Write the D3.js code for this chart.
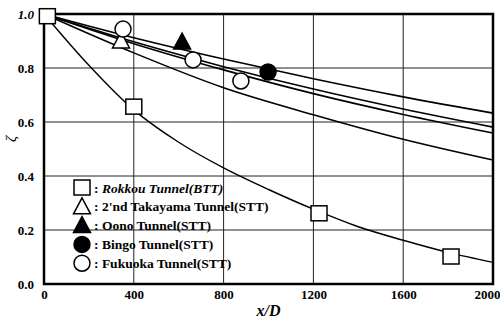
<!DOCTYPE html>
<html>
<head>
<meta charset="utf-8">
<script src="https://cdn.jsdelivr.net/npm/d3@7"></script>
<style>
  body { margin: 0; background: #fff; }
  svg { display: block; }
  text { font-family: "Liberation Serif", "Times New Roman", Times, "DejaVu Serif", serif; }
  .tick text { font-weight: bold; font-size: 13px; fill: #000; }
</style>
</head>
<body>
<div id="chart"></div>
<script>
// tick values
var xTicks = [0, 400, 800, 1200, 1600, 2000];
var yTicks = [0.0, 0.2, 0.4, 0.6, 0.8, 1.0];

// fitted lines
var lineX = [0, 400, 800, 1200, 1600, 2000];
var lineTop = [1.0, 0.912, 0.833, 0.760, 0.693, 0.633];
var lineMid1 = [1.0, 0.897, 0.805, 0.722, 0.648, 0.581];
var lineMid2 = [1.0, 0.890, 0.793, 0.705, 0.628, 0.559];
var lineLow = [1.0, 0.856, 0.727, 0.627, 0.536, 0.459];

var rokkouX = [0, 200, 400, 600, 800, 1000, 1200, 1400, 1600, 1800, 2000];
var rokkouY = [1.0, 0.81, 0.645, 0.525, 0.43, 0.35, 0.277, 0.212, 0.162, 0.117, 0.08];

// measured points
var rokkouPts = [[15, 0.99], [400, 0.655], [1225, 0.26], [1813, 0.1]];
var takayamaPts = [[343, 0.9]];
var oonoPts = [[615, 0.896]];
var bingoPts = [[998, 0.785]];
var fukuokaPts = [[352, 0.944], [664, 0.83], [877, 0.752]];

var legendNames = ['Rokkou Tunnel(BTT)', "2'nd Takayama Tunnel(STT)", 'Oono Tunnel(STT)', 'Bingo Tunnel(STT)', 'Fukuoka Tunnel(STT)'];
var legendShapes = ['square', 'triOpen', 'triFill', 'circFill', 'circOpen'];

var W = 500, H = 320;
var margin = {left: 44, right: 7, top: 14, bottom: 36};

var svg = d3.select('#chart').append('svg')
    .attr('width', W).attr('height', H);

var x = d3.scaleLinear().domain([0, 2000]).range([margin.left, W - margin.right]);
var y = d3.scaleLinear().domain([0, 1]).range([H - margin.bottom, margin.top]);

// grid
svg.append('g').selectAll('line').data(xTicks.slice(1, -1)).enter().append('line')
    .attr('x1', function(d) { return x(d); }).attr('x2', function(d) { return x(d); })
    .attr('y1', y(0)).attr('y2', y(1))
    .attr('stroke', '#222').attr('stroke-width', 1);
svg.append('g').selectAll('line').data(yTicks.slice(1, -1)).enter().append('line')
    .attr('y1', function(d) { return y(d); }).attr('y2', function(d) { return y(d); })
    .attr('x1', x(0)).attr('x2', x(2000))
    .attr('stroke', '#222').attr('stroke-width', 1);

// axes
var xAxis = svg.append('g')
    .attr('transform', 'translate(0,' + y(0) + ')')
    .call(d3.axisBottom(x).tickValues(xTicks).tickSize(0).tickPadding(6).tickFormat(d3.format('d')));
var yAxis = svg.append('g')
    .attr('transform', 'translate(' + x(0) + ',0)')
    .call(d3.axisLeft(y).tickValues(yTicks).tickSize(0).tickPadding(10).tickFormat(d3.format('.1f')));
xAxis.attr('font-family', null);
yAxis.attr('font-family', null);
xAxis.select('.domain').remove();
yAxis.select('.domain').remove();
xAxis.selectAll('.tick text').filter(function(d) { return d === 2000; })
    .attr('text-anchor', 'end').attr('x', W - x(2000));
yAxis.selectAll('.tick text').filter(function(d) { return d === 1; }).style('font-style', 'italic');

// frame
svg.append('rect')
    .attr('x', x(0)).attr('y', y(1))
    .attr('width', x(2000) - x(0)).attr('height', y(0) - y(1))
    .attr('fill', 'none').attr('stroke', '#000').attr('stroke-width', 2.5);

// curves
var line = d3.line()
    .x(function(d) { return x(d[0]); })
    .y(function(d) { return y(d[1]); })
    .curve(d3.curveCatmullRom);

[lineTop, lineMid1, lineMid2, lineLow].forEach(function(vals) {
    svg.append('path')
        .attr('d', line(d3.zip(lineX, vals)))
        .attr('fill', 'none').attr('stroke', '#000').attr('stroke-width', 1.6);
});
svg.append('path')
    .attr('d', line(d3.zip(rokkouX, rokkouY)))
    .attr('fill', 'none').attr('stroke', '#000').attr('stroke-width', 1.4);

// markers
function drawMark(g, shape, cx, cy) {
    var s;
    if (shape === 'square') {
        s = g.append('rect').attr('x', cx - 8).attr('y', cy - 8).attr('width', 16).attr('height', 15)
            .attr('fill', '#fff');
    } else if (shape === 'triOpen' || shape === 'triFill') {
        s = g.append('path')
            .attr('d', 'M' + cx + ',' + (cy - 9) + 'L' + (cx + 8.5) + ',' + (cy + 7) + 'L' + (cx - 8.5) + ',' + (cy + 7) + 'Z')
            .attr('fill', shape === 'triFill' ? '#000' : '#fff');
    } else {
        s = g.append('circle').attr('cx', cx).attr('cy', cy).attr('r', 8)
            .attr('fill', shape === 'circFill' ? '#000' : '#fff');
    }
    s.attr('stroke', '#000').attr('stroke-width', 1.5);
}

var marks = svg.append('g');
[[rokkouPts, 'square'], [takayamaPts, 'triOpen'], [oonoPts, 'triFill'], [bingoPts, 'circFill'], [fukuokaPts, 'circOpen']]
    .forEach(function(set) {
        set[0].forEach(function(p) { drawMark(marks, set[1], x(p[0]), y(p[1])); });
    });

// legend
var leg = svg.append('g');
legendNames.forEach(function(name, i) {
    var ly = 188 + i * 18.8;
    drawMark(leg, legendShapes[i], 82, ly);
    var t = leg.append('text')
        .attr('x', 94).attr('y', ly + 4.5)
        .attr('font-weight', 'bold').attr('font-size', 13.5);
    t.append('tspan').text(': ');
    t.append('tspan').text(name).style('font-style', i === 0 ? 'italic' : 'normal');
});

// axis titles
svg.append('text')
    .attr('x', (x(0) + x(2000)) / 2).attr('y', 316)
    .attr('text-anchor', 'middle')
    .attr('font-weight', 'bold').attr('font-style', 'italic').attr('font-size', 16)
    .text('x/D');
svg.append('text')
    .attr('transform', 'translate(16,139) rotate(-90)')
    .attr('text-anchor', 'middle')
    .attr('font-style', 'italic').attr('font-size', 15)
    .text('ζ');
</script>
</body>
</html>
